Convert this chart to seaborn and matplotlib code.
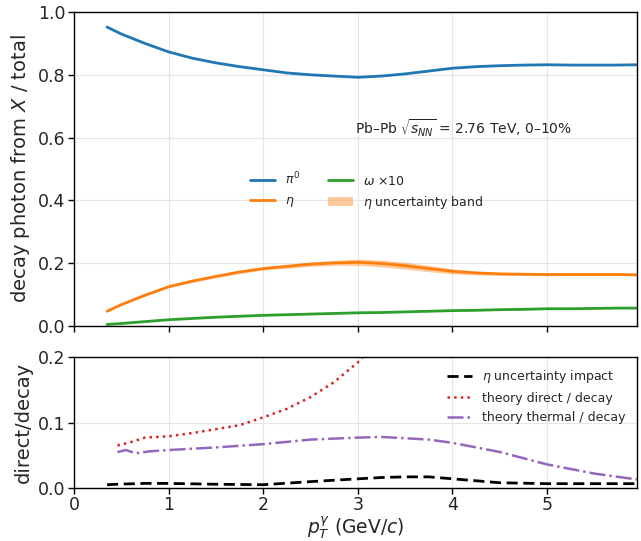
import numpy as np
import pandas as pd
import seaborn as sns
import matplotlib
matplotlib.use("Agg")
import matplotlib.pyplot as plt

# ---- data ----
pt_top = [0.35, 0.5, 0.75, 1.0, 1.25, 1.5, 1.75, 2.0, 2.25, 2.5, 2.75, 3.0, 3.25, 3.5, 3.75, 4.0, 4.25, 4.5, 4.75, 5.0, 5.25, 5.5, 5.75, 5.95]
frac_pi0 = [0.952, 0.930, 0.900, 0.873, 0.853, 0.838, 0.826, 0.816, 0.806, 0.800, 0.796, 0.792, 0.796, 0.803, 0.812, 0.821, 0.826, 0.829, 0.831, 0.832, 0.831, 0.831, 0.831, 0.832]
frac_eta = [0.047, 0.068, 0.098, 0.125, 0.143, 0.158, 0.172, 0.183, 0.190, 0.197, 0.201, 0.203, 0.199, 0.192, 0.183, 0.174, 0.169, 0.166, 0.165, 0.164, 0.164, 0.164, 0.164, 0.163]
eta_unc = [0.002, 0.002, 0.003, 0.003, 0.004, 0.004, 0.005, 0.005, 0.006, 0.007, 0.008, 0.010, 0.011, 0.011, 0.010, 0.008, 0.006, 0.005, 0.004, 0.004, 0.003, 0.003, 0.003, 0.003]
frac_omega_x10 = [0.005, 0.008, 0.014, 0.020, 0.024, 0.028, 0.031, 0.034, 0.036, 0.038, 0.040, 0.042, 0.043, 0.045, 0.047, 0.049, 0.050, 0.052, 0.053, 0.055, 0.055, 0.056, 0.057, 0.057]

pt_unc = [0.35, 0.5, 0.75, 1.0, 1.5, 2.0, 2.5, 3.0, 3.25, 3.5, 3.75, 4.0, 4.25, 4.5, 5.0, 5.5, 5.95]
unc_impact = [0.005, 0.006, 0.007, 0.007, 0.0057, 0.005, 0.0097, 0.014, 0.016, 0.017, 0.017, 0.014, 0.011, 0.008, 0.0066, 0.0066, 0.0066]

pt_dir = [0.46, 0.6, 0.75, 1.0, 1.25, 1.5, 1.75, 2.0, 2.25, 2.5, 2.75, 3.0, 3.15, 3.3]
theory_direct = [0.065, 0.070, 0.077, 0.079, 0.084, 0.090, 0.096, 0.108, 0.121, 0.139, 0.162, 0.192, 0.215, 0.24]

pt_th = [0.46, 0.55, 0.65, 0.8, 1.0, 1.5, 2.0, 2.5, 3.0, 3.25, 3.5, 3.75, 4.0, 4.5, 5.0, 5.5, 5.95]
theory_thermal = [0.055, 0.058, 0.053, 0.056, 0.058, 0.062, 0.067, 0.074, 0.077, 0.078, 0.076, 0.074, 0.069, 0.055, 0.036, 0.022, 0.013]

# ---- figure ----
sns.set_theme(style="whitegrid")
plt.rcParams["font.family"] = ["DejaVu Sans"]
plt.rcParams["mathtext.fontset"] = "dejavusans"

fig, (ax1, ax2) = plt.subplots(2, 1, figsize=(6.41, 5.41), dpi=100, sharex=True,
                               gridspec_kw=dict(height_ratios=[2.4, 1], hspace=0.14))
fig.subplots_adjust(left=0.1154, right=0.9938, top=0.9778, bottom=0.098)

pal = sns.color_palette("tab10")

for ax in (ax1, ax2):
    ax.set_facecolor("white")
    for s in ax.spines.values():
        s.set_color("black")
        s.set_linewidth(1.0)
    ax.grid(True, color="#e5e5e5", linewidth=0.8)
    ax.tick_params(axis="both", which="both", direction="out", length=4, width=1,
                   color="black", labelsize=12.5, bottom=True, left=True, pad=2)

ax1.fill_between(pt_top, np.array(frac_eta) - np.array(eta_unc),
                 np.array(frac_eta) + np.array(eta_unc),
                 color=pal[1], alpha=0.4, linewidth=0, label=r"$\eta$ uncertainty band")
sns.lineplot(x=pt_top, y=frac_pi0, ax=ax1, color=pal[0], lw=2, label=r"$\pi^0$")
sns.lineplot(x=pt_top, y=frac_eta, ax=ax1, color=pal[1], lw=2, label=r"$\eta$")
sns.lineplot(x=pt_top, y=frac_omega_x10, ax=ax1, color=pal[2], lw=2, label=r"$\omega$ $\times$10")

h, l = ax1.get_legend_handles_labels()
order = [l.index(r"$\pi^0$"), l.index(r"$\eta$"), l.index(r"$\omega$ $\times$10"), l.index(r"$\eta$ uncertainty band")]
ax1.legend([h[i] for i in order], [l[i] for i in order], ncol=2, frameon=False,
           loc="center", bbox_to_anchor=(0.52, 0.43), fontsize=9, handlelength=2.0,
           columnspacing=2.2)
ax1.text(0.50, 0.63, r"Pb–Pb $\sqrt{s_{NN}}$ = 2.76 TeV, 0–10%", transform=ax1.transAxes,
         fontsize=10, va="center", ha="left")
ax1.set_ylim(0, 1.0)
ax1.set_yticks([0.0, 0.2, 0.4, 0.6, 0.8, 1.0])
ax1.set_ylabel(r"decay photon from $X$ / total", fontsize=14)
ax1.tick_params(labelbottom=False)

sns.lineplot(x=pt_unc, y=unc_impact, ax=ax2, color="black", lw=2, linestyle=(0, (4, 2)),
             label=r"$\eta$ uncertainty impact")
sns.lineplot(x=pt_dir, y=theory_direct, ax=ax2, color=pal[3], lw=1.8, linestyle=":",
             label="theory direct / decay")
sns.lineplot(x=pt_th, y=theory_thermal, ax=ax2, color=pal[4], lw=1.8, linestyle="-.",
             label="theory thermal / decay")
ax2.legend(loc="upper right", frameon=False, fontsize=9)
ax2.set_ylim(0, 0.2)
ax2.set_yticks([0.0, 0.1, 0.2])
ax2.set_ylabel("direct/decay", fontsize=14)
ax2.set_xlim(0, 5.95)
ax2.set_xticks([0, 1, 2, 3, 4, 5])
ax2.set_xlabel(r"$p_T^{\gamma}$ (GeV/$c$)", fontsize=13.5, labelpad=0)

fig.savefig("out.png", dpi=100)
